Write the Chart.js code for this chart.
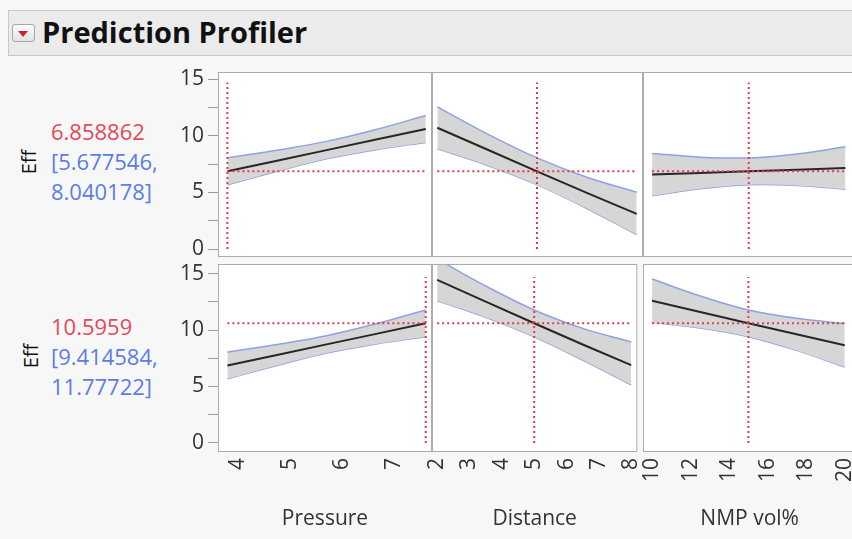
<!DOCTYPE html>
<html>
<head>
<meta charset="utf-8">
<title>Prediction Profiler</title>
<script src="https://cdn.jsdelivr.net/npm/chart.js@4.4.1/dist/chart.umd.min.js"></script>
<style>
  body { margin: 0; width: 852px; height: 539px; background: #f7f7f7; overflow: hidden; position: relative; font-family: "Open Sans", "Noto Sans", sans-serif; }
  #header { position: absolute; left: 8px; top: 10px; width: 850px; height: 44px; background: #ebebeb; border: 1px solid #c8c8c8; border-right: none; }
  #menu_btn { position: absolute; left: 12px; top: 24px; width: 21px; height: 16px; border: 1px solid #a8a8a8; border-radius: 3px; background: linear-gradient(#fdfdfd, #e2e2e2); }
  #menu_btn::after { content: ''; position: absolute; left: 5px; top: 6px; border-left: 5px solid transparent; border-right: 5px solid transparent; border-top: 6px solid #d3202e; }
  #title { position: absolute; left: 42px; top: 14px; margin: 0; font-size: 29px; line-height: 36px; font-weight: bold; color: #111; }
  .eff { position: absolute; font-size: 20px; color: #111; transform: translate(-50%, -50%) rotate(-90deg); }
  .resp { position: absolute; left: 51px; font-size: 22px; line-height: 30px; }
  .resp .val { color: #e5485a; }
  .resp .ci { color: #5b7ee0; }
  canvas { position: absolute; }
</style>
</head>
<body>
<div id="header"></div>
<div id="menu_btn"></div>
<h1 id="title">Prediction Profiler</h1>
<div class="eff" style="left:28px; top:162px">Eff</div>
<div class="eff" style="left:30px; top:356px">Eff</div>
<div class="resp" id="resp_0" style="top:116px"></div>
<div class="resp" id="resp_1" style="top:311px"></div>

<script>
const factorNames = ['Pressure', 'Distance', 'NMP vol%']
const pressureTicks = [4, 5, 6, 7]
const distanceTicks = [2, 3, 4, 5, 6, 7, 8]
const nmpTicks = [10, 12, 14, 16, 18, 20]
const effTicks = [0, 2.5, 5, 7.5, 10, 12.5, 15]

// current settings and prediction for each row
const currentPressure = [3.8, 7.6]
const currentDistance = [5, 5]
const currentNmp = [15, 15]
const predicted = [6.858862, 10.5959]
const predLower = [5.677546, 9.414584]
const predUpper = [8.040178, 11.77722]
const crossTop = 14.7

// profile points
const pressureX = [3.8, 4.75, 5.7, 6.65, 7.6]
const distanceX = [2, 3.5, 5, 6.5, 8]
const nmpX = [10, 12.5, 15, 17.5, 20]

// row 1 (Pressure = 3.8)
const pressureMean1 = [6.86, 7.79, 8.73, 9.66, 10.60]
const pressureUpper1 = [8.04, 8.72, 9.50, 10.55, 11.78]
const pressureLower1 = [5.68, 6.86, 7.96, 8.77, 9.41]
const distanceMean1 = [10.70, 8.78, 6.86, 4.96, 3.10]
const distanceUpper1 = [12.55, 10.16, 8.04, 6.34, 5.02]
const distanceLower1 = [8.85, 7.40, 5.68, 3.58, 1.28]
const nmpMean1 = [6.57, 6.72, 6.86, 7.00, 7.15]
const nmpUpper1 = [8.44, 8.11, 8.04, 8.39, 9.02]
const nmpLower1 = [4.70, 5.33, 5.68, 5.61, 5.28]

// row 2 (Pressure = 7.6)
const pressureMean2 = [6.86, 7.79, 8.73, 9.66, 10.60]
const pressureUpper2 = [8.04, 8.72, 9.50, 10.55, 11.78]
const pressureLower2 = [5.68, 6.86, 7.96, 8.77, 9.41]
const distanceMean2 = [14.45, 12.52, 10.60, 8.72, 6.90]
const distanceUpper2 = [16.30, 13.90, 11.78, 10.15, 8.95]
const distanceLower2 = [12.60, 11.14, 9.41, 7.34, 5.15]
const nmpMean2 = [12.60, 11.60, 10.60, 9.62, 8.65]
const nmpUpper2 = [14.52, 13.02, 11.78, 11.04, 10.57]
const nmpLower2 = [10.68, 10.18, 9.41, 8.20, 6.73]

const FONT = '"Open Sans", "Noto Sans", sans-serif'
const PAD = 20
const Y_AXIS_W = 60
const X_AXIS_H = 80

// panel frames [left, width] and [top, height]
const cols = [[218, 214], [432, 211], [643, 214]]
const rows = [[72, 185], [264, 188]]
const xRanges = [[3.62, 7.72], [1.84, 8.19], [9.53, 20.6]]
const yRanges = [[-0.7, 15.62], [-0.8, 15.85]]

const panels = [
    { row: 0, col: 0, xs: pressureX, mean: pressureMean1, upper: pressureUpper1, lower: pressureLower1, ticks: pressureTicks, cur: currentPressure[0] },
    { row: 0, col: 1, xs: distanceX, mean: distanceMean1, upper: distanceUpper1, lower: distanceLower1, ticks: distanceTicks, cur: currentDistance[0] },
    { row: 0, col: 2, xs: nmpX, mean: nmpMean1, upper: nmpUpper1, lower: nmpLower1, ticks: nmpTicks, cur: currentNmp[0] },
    { row: 1, col: 0, xs: pressureX, mean: pressureMean2, upper: pressureUpper2, lower: pressureLower2, ticks: pressureTicks, cur: currentPressure[1] },
    { row: 1, col: 1, xs: distanceX, mean: distanceMean2, upper: distanceUpper2, lower: distanceLower2, ticks: distanceTicks, cur: currentDistance[1] },
    { row: 1, col: 2, xs: nmpX, mean: nmpMean2, upper: nmpUpper2, lower: nmpLower2, ticks: nmpTicks, cur: currentNmp[1] }
]

predicted.forEach((val, i) => {
    document.querySelector('#resp_' + i).innerHTML = `
        <div class="val">${val}</div>
        <div class="ci">[${predLower[i]},</div>
        <div class="ci">${predUpper[i]}]</div>
    `
})

const panelBox = {
    id: 'panelBox',
    beforeDraw(chart) {
        const { ctx, chartArea: a } = chart
        ctx.save()
        ctx.fillStyle = '#ffffff'
        ctx.fillRect(a.left, a.top, a.width, a.height)
        ctx.restore()
    },
    afterDraw(chart) {
        const { ctx, chartArea: a } = chart
        ctx.save()
        ctx.strokeStyle = '#acacac'
        ctx.lineWidth = 1
        ctx.strokeRect(a.left + 0.5, a.top + 0.5, a.width - 1, a.height - 1)
        ctx.restore()
    }
}

const toPoints = (xs, ys) => xs.map((x, i) => ({ x: x, y: ys[i] }))

panels.forEach((p) => {
    const showY = p.col === 0
    const showX = p.row === 1
    const [left, width] = cols[p.col]
    const [top, height] = rows[p.row]
    const yw = showY ? Y_AXIS_W : 0
    const xh = showX ? X_AXIS_H : 0

    const canvas = document.createElement('canvas')
    canvas.width = width + 2 * PAD + yw
    canvas.height = height + 2 * PAD + xh
    canvas.style.left = (left - PAD - yw) + 'px'
    canvas.style.top = (top - PAD) + 'px'
    document.body.appendChild(canvas)

    const pred = predicted[p.row]
    const first = p.xs[0]
    const last = p.xs[p.xs.length - 1]

    new Chart(canvas.getContext('2d'), {
        type: 'line',
        data: {
            datasets: [
                {
                    data: [{ x: p.cur, y: 0 }, { x: p.cur, y: crossTop }],
                    borderColor: '#e3394f', borderWidth: 2, borderDash: [2, 3], pointRadius: 0, fill: false
                },
                {
                    data: [{ x: first, y: pred }, { x: last, y: pred }],
                    borderColor: '#e3394f', borderWidth: 2, borderDash: [2, 3], pointRadius: 0, fill: false
                },
                {
                    data: toPoints(p.xs, p.mean),
                    borderColor: '#262626', borderWidth: 2, pointRadius: 0, fill: false
                },
                {
                    data: toPoints(p.xs, p.upper),
                    borderColor: '#8ea2e2', borderWidth: 1.5, pointRadius: 0, tension: 0.35,
                    fill: '+1', backgroundColor: '#d6d6d6'
                },
                {
                    data: toPoints(p.xs, p.lower),
                    borderColor: '#8ea2e2', borderWidth: 1.5, pointRadius: 0, tension: 0.35, fill: false
                }
            ]
        },
        options: {
            responsive: false,
            animation: false,
            events: [],
            layout: { padding: PAD },
            plugins: {
                legend: { display: false },
                tooltip: { enabled: false }
            },
            scales: {
                x: {
                    type: 'linear',
                    display: showX,
                    min: xRanges[p.col][0],
                    max: xRanges[p.col][1],
                    afterBuildTicks: (scale) => { scale.ticks = p.ticks.map((v) => ({ value: v })) },
                    afterFit: (scale) => { if (showX) scale.height = X_AXIS_H },
                    grid: { display: false, drawTicks: false },
                    border: { display: false },
                    ticks: {
                        autoSkip: false, minRotation: 90, maxRotation: 90, padding: 6,
                        color: '#333', font: { family: FONT, size: 21 }
                    },
                    title: {
                        display: true, text: factorNames[p.col], color: '#333',
                        font: { family: FONT, size: 21 }, padding: { top: 0, bottom: 0 }
                    }
                },
                y: {
                    display: showY,
                    min: yRanges[p.row][0],
                    max: yRanges[p.row][1],
                    afterBuildTicks: (scale) => { scale.ticks = effTicks.map((v) => ({ value: v })) },
                    afterFit: (scale) => { if (showY) scale.width = Y_AXIS_W },
                    grid: { display: true, drawOnChartArea: false, drawTicks: true, tickLength: 10, color: '#9c9c9c' },
                    border: { display: false },
                    ticks: {
                        padding: 4, color: '#333', font: { family: FONT, size: 21 },
                        callback: (value) => value % 5 === 0 ? value : ''
                    }
                }
            }
        },
        plugins: [panelBox]
    })
})
</script>
</body>
</html>
